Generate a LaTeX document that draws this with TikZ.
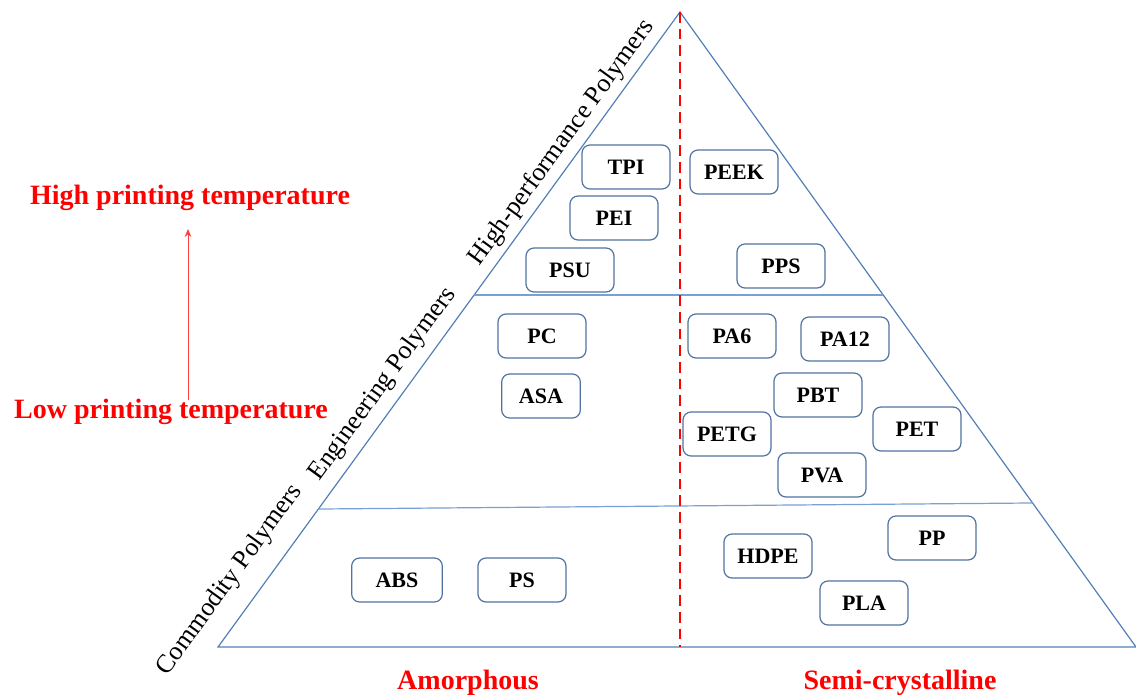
\documentclass[tikz,border=0pt]{standalone}
\usepackage{fontspec}
\setmainfont{Liberation Serif}
\usetikzlibrary{arrows.meta,calc}
\definecolor{triblue}{RGB}{84,127,181}
\definecolor{lineblue}{RGB}{120,160,210}
\definecolor{boxblue}{RGB}{80,115,160}
\begin{document}
\begin{tikzpicture}[x=0.75pt,y=-0.75pt,
  polybox/.style={draw=boxblue, line width=0.9pt, rounded corners=6pt,
    minimum width=66pt, minimum height=33pt, inner sep=0pt,
    font=\bfseries\fontsize{16.5}{19}\selectfont},
  redlabel/.style={text=red, font=\bfseries\fontsize{21}{25}\selectfont, inner sep=0pt},
  sidelabel/.style={font=\fontsize{19.5}{23}\selectfont, rotate=53.96, inner sep=0pt},
  triline/.style={draw=triblue, line width=0.9pt},
  levelline/.style={draw=lineblue, line width=0.9pt}]
\useasboundingbox (0,0) rectangle (1136,697);
% triangle
\coordinate (apex) at (680,12);
\coordinate (bl) at (218,647);
\coordinate (br) at (1136,647);
\coordinate (bmid) at (680,647);
\draw[triline] (bl) -- (apex) -- (br) -- cycle;
% level lines
\coordinate (l1a) at ($(bl)!0.5543!(apex)$);
\coordinate (l1b) at ($(br)!0.5543!(apex)$);
\coordinate (l2a) at ($(bl)!0.2173!(apex)$);
\coordinate (l2b) at ($(br)!0.2268!(apex)$);
\draw[levelline] (l1a) -- (l1b);
\draw[levelline] (l2a) -- (l2b);
% dashed divider
\draw[red, line width=1.4pt, dash pattern=on 8pt off 4.5pt] (apex) -- (bmid);
% side labels
\node[sidelabel] (hp) at (562,143) {High-performance Polymers};
\node[sidelabel] (eng) at (383,384) {Engineering Polymers};
\node[sidelabel] (com) at (230,580) {Commodity Polymers};
% boxes
\node[polybox] (tpi) at (626,167) {TPI};
\node[polybox] (pei) at (614,218) {PEI};
\node[polybox] (psu) at (570,270) {PSU};
\node[polybox] (peek) at (734,172) {PEEK};
\node[polybox] (pps) at (781,266) {PPS};
\node[polybox] (pc) at (542,336) {PC};
\node[polybox, minimum width=59pt] (asa) at (541,396) {ASA};
\node[polybox] (pa6) at (732,336) {PA6};
\node[polybox] (pa12) at (845,339) {PA12};
\node[polybox] (pbt) at (818,395) {PBT};
\node[polybox] (pet) at (917,429) {PET};
\node[polybox] (petg) at (727,434) {PETG};
\node[polybox] (pva) at (822,475) {PVA};
\node[polybox] (hdpe) at (768,556) {HDPE};
\node[polybox] (pp) at (932,538) {PP};
\node[polybox] (pla) at (864,603) {PLA};
\node[polybox, minimum width=68pt] (abs) at (397,580) {ABS};
\node[polybox] (ps) at (522,580) {PS};
% red labels
\node[redlabel] (high) at (190,198) {High printing temperature};
\node[redlabel] (low) at (171,412) {Low printing temperature};
\coordinate (arrlo) at (188,400);
\coordinate (arrhi) at (188,229);
\draw[red!75, line width=0.6pt, -{Stealth[length=6pt,width=5pt]}] (arrlo) -- (arrhi);
\node[redlabel] (amo) at (468,683) {Amorphous};
\node[redlabel] (semi) at (900,683) {Semi-crystalline};
\end{tikzpicture}
\end{document}
